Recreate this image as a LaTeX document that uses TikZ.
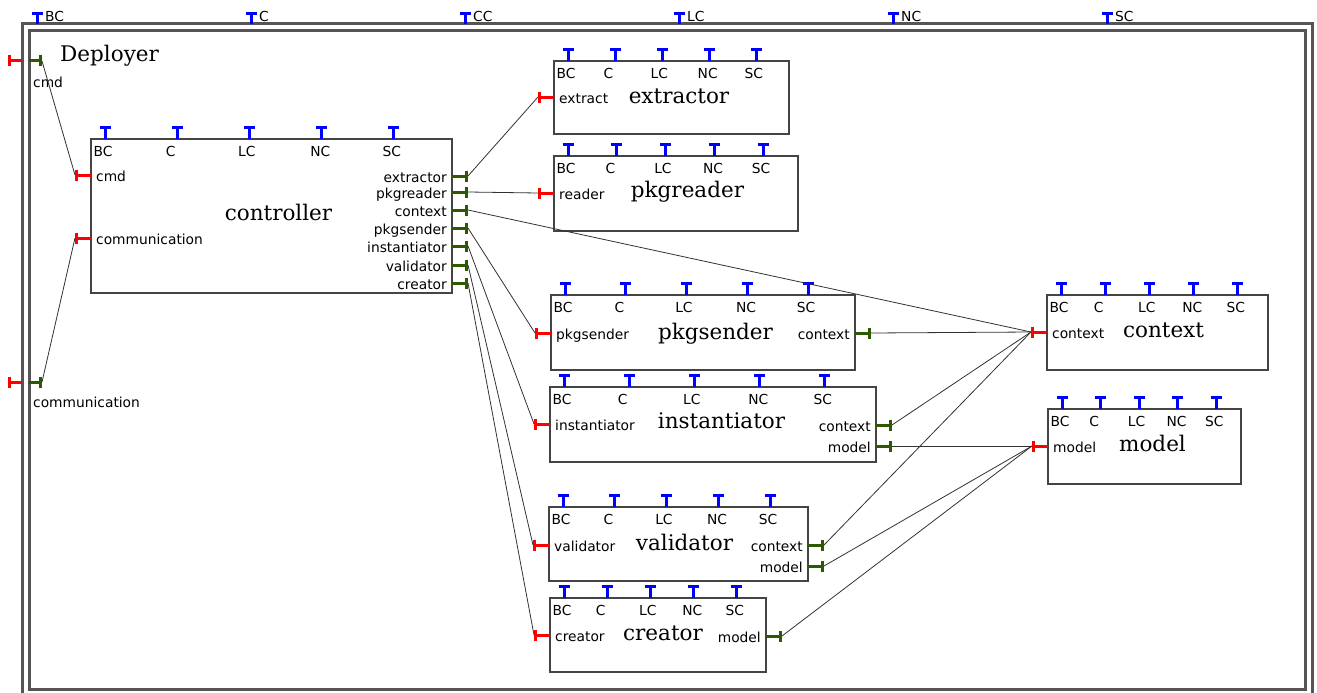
\documentclass[tikz,border=0pt]{standalone}
\usepackage{fontspec}
\setmainfont{DejaVu Serif}
\newfontfamily\portfont{DejaVu Sans}
\usetikzlibrary{positioning, calc}
\definecolor{FrameColor}{RGB}{85,85,85}
\definecolor{BoxColor}{RGB}{68,68,68}
\definecolor{InColor}{RGB}{255,0,0}
\definecolor{OutColor}{RGB}{45,90,0}
\definecolor{TopColor}{RGB}{0,0,255}
\definecolor{WireColor}{RGB}{50,50,50}

\tikzset{
  comp/.style = {draw=BoxColor, line width=2.6pt, anchor=north west, inner sep=0pt, outer sep=0pt},
  frame/.style = {draw=FrameColor, line width=3pt, anchor=north west, inner sep=0pt, outer sep=0pt},
  title/.style = {font=\fontsize{21.5}{24}\selectfont, anchor=base, inner sep=0pt},
  lab/.style = {font=\portfont\fontsize{13.8}{15}\selectfont, inner sep=0pt},
  tport/.style = {TopColor, line width=3pt},
  inport/.style = {InColor, line width=3pt},
  outport/.style = {OutColor, line width=3pt},
  wire/.style = {WireColor, line width=0.8pt},
}

\begin{document}
\begin{tikzpicture}[x=1pt, y=-1pt]
  \useasboundingbox (0,0) rectangle (1317,693);

  % Deployer frame
  \node[frame, minimum width=1290, minimum height=700] (outer) at (22,24) {};
  \node[frame, minimum width=1276, minimum height=658] (deployer) at (29,31) {};
  \node[title, anchor=base west] (deployer-title) at (60,62) {Deployer};

  \foreach \i/\t in {0/BC,1/C,2/CC,3/LC,4/NC,5/SC} {
    \pgfmathsetmacro\px{37+\i*214}
    \draw[tport] (\px,24) -- (\px,13) (\px-5.5,13.5) -- (\px+5.5,13.5);
    \node[lab, anchor=base west] (deployer-\t) at (\px+8,22) {\t};
  }

  \foreach \n/\y/\ly in {cmd/61/87, communication/382/407} {
    \draw[inport] (22,\y) -- (8,\y) (9.5,\y-5.5) -- (9.5,\y+5.5);
    \draw[outport] (29,\y) -- (42,\y) (40.5,\y-5.5) -- (40.5,\y+5.5);
    \coordinate (deployer-\n) at (42,\y);
    \node[lab, anchor=base west] (deployer-\n-lab) at (33,\ly) {\n};
  }

  % components
  \foreach \n/\xa/\ya/\xb/\yb in {controller/91/139/452/293, extractor/554/61/789/134,
      pkgreader/554/156/798/231, pkgsender/551/295/855/370, instantiator/550/387/876/462,
      validator/549/507/808/581, creator/550/598/766/672, context/1047/295/1268/370,
      model/1048/409/1241/484} {
    \node[comp, minimum width=\xb-\xa, minimum height=\yb-\ya] (\n) at (\xa,\ya) {};
    \foreach \i/\t in {0/BC,1/C,2/LC,3/NC,4/SC} {
      \pgfmathsetmacro\px{\xa+14+\i*(\xb-\xa)/5}
      \pgfmathsetmacro\lx{\xa+2.5+\i*(\xb-\xa)/5}
      \draw[tport] (\px,\ya) -- (\px,\ya-12) (\px-5.5,\ya-11.5) -- (\px+5.5,\ya-11.5);
      \node[lab, anchor=base west] (\n-\t) at (\lx,\ya+17) {\t};
    }
  }

  \foreach \n/\x/\y in {controller/278.5/220, extractor/679/103, pkgreader/687.5/197.5,
      pkgsender/715.5/339, instantiator/721.5/428.5, validator/684.5/550,
      creator/663/640, context/1163.5/337, model/1152.5/451}
    \node[title] (\n-title) at (\x,\y) {\n};

  % input ports
  \foreach \n/\x/\y/\t in {controller-cmd/91/175/cmd, controller-communication/91/238/communication,
      extractor-extract/554/97/extract, pkgreader-reader/554/193/reader,
      pkgsender-pkgsender/551/333/pkgsender, instantiator-instantiator/550/424/instantiator,
      validator-validator/549/545/validator, creator-creator/550/635/creator,
      context-context/1047/332/context, model-model/1048/446/model} {
    \draw[inport] (\x,\y) -- (\x-16,\y) (\x-14.5,\y-5.5) -- (\x-14.5,\y+5.5);
    \coordinate (\n) at (\x-16,\y);
    \node[lab, anchor=base west] (\n-lab) at (\x+5,\y+6.5) {\t};
  }

  % output ports
  \foreach \n/\x/\y/\t in {controller-extractor/452/176/extractor, controller-pkgreader/452/192/pkgreader,
      controller-context/452/210/context, controller-pkgsender/452/228/pkgsender,
      controller-instantiator/452/246/instantiator, controller-validator/452/265/validator,
      controller-creator/452/283/creator, pkgsender-context/855/333/context,
      instantiator-context/876/425/context, instantiator-model/876/446/model,
      validator-context/808/545/context, validator-model/808/566/model,
      creator-model/766/636/model} {
    \draw[outport] (\x,\y) -- (\x+16,\y) (\x+14.5,\y-5.5) -- (\x+14.5,\y+5.5);
    \coordinate (\n) at (\x+16,\y);
    \node[lab, anchor=base east] (\n-lab) at (\x-5,\y+6.5) {\t};
  }

  % wires
  \draw[wire] (deployer-cmd) -- (controller-cmd);
  \draw[wire] (deployer-communication) -- (controller-communication);
  \foreach \a/\b in {controller-extractor/extractor-extract, controller-pkgreader/pkgreader-reader,
      controller-context/context-context, controller-pkgsender/pkgsender-pkgsender,
      controller-instantiator/instantiator-instantiator, controller-validator/validator-validator,
      controller-creator/creator-creator, pkgsender-context/context-context,
      instantiator-context/context-context, instantiator-model/model-model,
      validator-context/context-context, validator-model/model-model,
      creator-model/model-model}
    \draw[wire] (\a) -- (\b);
\end{tikzpicture}
\end{document}
